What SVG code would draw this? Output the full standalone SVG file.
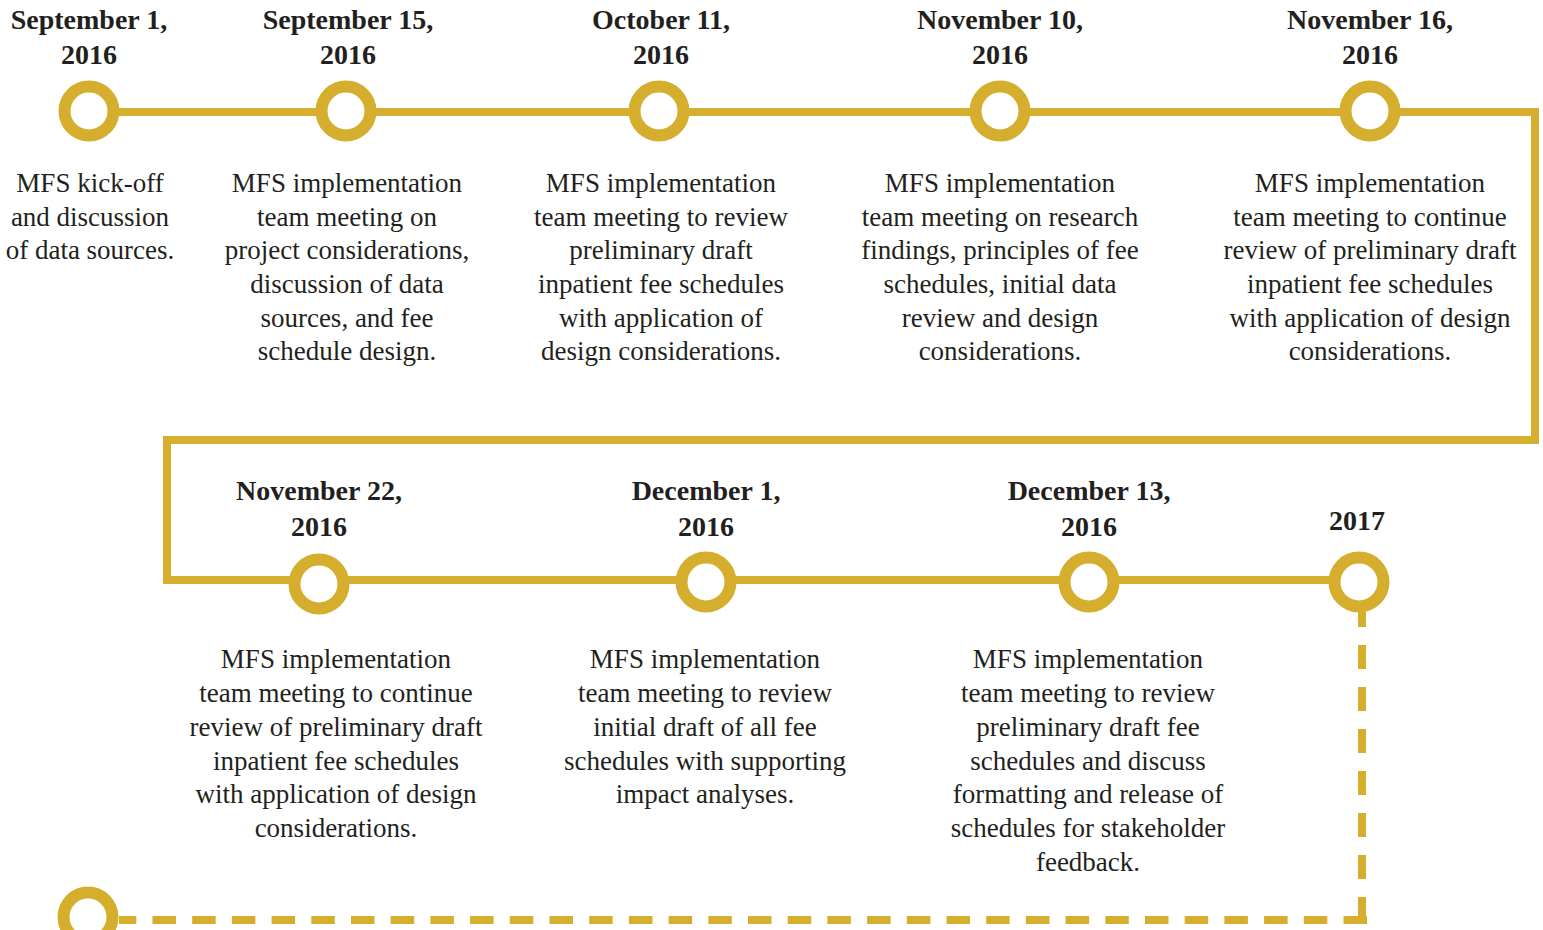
<svg xmlns="http://www.w3.org/2000/svg" width="1543" height="930" viewBox="0 0 1543 930">
<style>
.line{fill:none;stroke:#D6AE2D;stroke-width:8}
.dash{fill:none;stroke:#D6AE2D;stroke-width:8}
.ring{fill:#FFFFFF;stroke:#D6AE2D;stroke-width:12}
.date{font-family:"Liberation Serif",serif;font-weight:bold;font-size:28px;fill:#231F20;text-anchor:middle}
.body{font-family:"Liberation Serif",serif;font-size:27px;fill:#231F20;text-anchor:middle}
</style>
<rect width="1543" height="930" fill="#FFFFFF"/>
<g id="connectors">
<path class="line" d="M89 112 H1535 V440 H167 V580 H1358"/>
<path class="dash" d="M1362 612 V920" stroke-dasharray="24 18" stroke-dashoffset="9"/>
<path class="dash" d="M1367 920 H119" stroke-dasharray="23.5 16.2"/>
</g>
<g id="n1">
<circle class="ring" cx="89" cy="111" r="24.5"/>
<text class="date" x="89" y="29">September 1,</text>
<text class="date" x="89" y="64">2016</text>
<text class="body" x="90"><tspan x="90" y="192">MFS kick-off</tspan><tspan x="90" y="226">and discussion</tspan><tspan x="90" y="259">of data sources.</tspan></text>
</g>
<g id="n2">
<circle class="ring" cx="346" cy="111" r="24.5"/>
<text class="date" x="348" y="29">September 15,</text>
<text class="date" x="348" y="64">2016</text>
<text class="body" x="347"><tspan x="347" y="192">MFS implementation</tspan><tspan x="347" y="226">team meeting on</tspan><tspan x="347" y="259">project considerations,</tspan><tspan x="347" y="293">discussion of data</tspan><tspan x="347" y="327">sources, and fee</tspan><tspan x="347" y="360">schedule design.</tspan></text>
</g>
<g id="n3">
<circle class="ring" cx="659" cy="111" r="24.5"/>
<text class="date" x="661" y="29">October 11,</text>
<text class="date" x="661" y="64">2016</text>
<text class="body" x="661"><tspan x="661" y="192">MFS implementation</tspan><tspan x="661" y="226">team meeting to review</tspan><tspan x="661" y="259">preliminary draft</tspan><tspan x="661" y="293">inpatient fee schedules</tspan><tspan x="661" y="327">with application of</tspan><tspan x="661" y="360">design considerations.</tspan></text>
</g>
<g id="n4">
<circle class="ring" cx="1000" cy="111" r="24.5"/>
<text class="date" x="1000" y="29">November 10,</text>
<text class="date" x="1000" y="64">2016</text>
<text class="body" x="1000"><tspan x="1000" y="192">MFS implementation</tspan><tspan x="1000" y="226">team meeting on research</tspan><tspan x="1000" y="259">findings, principles of fee</tspan><tspan x="1000" y="293">schedules, initial data</tspan><tspan x="1000" y="327">review and design</tspan><tspan x="1000" y="360">considerations.</tspan></text>
</g>
<g id="n5">
<circle class="ring" cx="1370" cy="111" r="24.5"/>
<text class="date" x="1370" y="29">November 16,</text>
<text class="date" x="1370" y="64">2016</text>
<text class="body" x="1370"><tspan x="1370" y="192">MFS implementation</tspan><tspan x="1370" y="226">team meeting to continue</tspan><tspan x="1370" y="259">review of preliminary draft</tspan><tspan x="1370" y="293">inpatient fee schedules</tspan><tspan x="1370" y="327">with application of design</tspan><tspan x="1370" y="360">considerations.</tspan></text>
</g>
<g id="n6">
<circle class="ring" cx="319" cy="584" r="24.5"/>
<text class="date" x="319" y="500">November 22,</text>
<text class="date" x="319" y="536">2016</text>
<text class="body" x="336"><tspan x="336" y="668">MFS implementation</tspan><tspan x="336" y="702">team meeting to continue</tspan><tspan x="336" y="736">review of preliminary draft</tspan><tspan x="336" y="770">inpatient fee schedules</tspan><tspan x="336" y="803">with application of design</tspan><tspan x="336" y="837">considerations.</tspan></text>
</g>
<g id="n7">
<circle class="ring" cx="706" cy="582" r="24.5"/>
<text class="date" x="706" y="500">December 1,</text>
<text class="date" x="706" y="536">2016</text>
<text class="body" x="705"><tspan x="705" y="668">MFS implementation</tspan><tspan x="705" y="702">team meeting to review</tspan><tspan x="705" y="736">initial draft of all fee</tspan><tspan x="705" y="770">schedules with supporting</tspan><tspan x="705" y="803">impact analyses.</tspan></text>
</g>
<g id="n8">
<circle class="ring" cx="1089" cy="582" r="24.5"/>
<text class="date" x="1089" y="500">December 13,</text>
<text class="date" x="1089" y="536">2016</text>
<text class="body" x="1088"><tspan x="1088" y="668">MFS implementation</tspan><tspan x="1088" y="702">team meeting to review</tspan><tspan x="1088" y="736">preliminary draft fee</tspan><tspan x="1088" y="770">schedules and discuss</tspan><tspan x="1088" y="803">formatting and release of</tspan><tspan x="1088" y="837">schedules for stakeholder</tspan><tspan x="1088" y="871">feedback.</tspan></text>
</g>
<g id="n9">
<circle class="ring" cx="1359" cy="582" r="24.5"/>
<text class="date" x="1357" y="530">2017</text>
</g>
<g id="n10">
<circle class="ring" cx="88" cy="917" r="24.5"/>
</g>
</svg>
